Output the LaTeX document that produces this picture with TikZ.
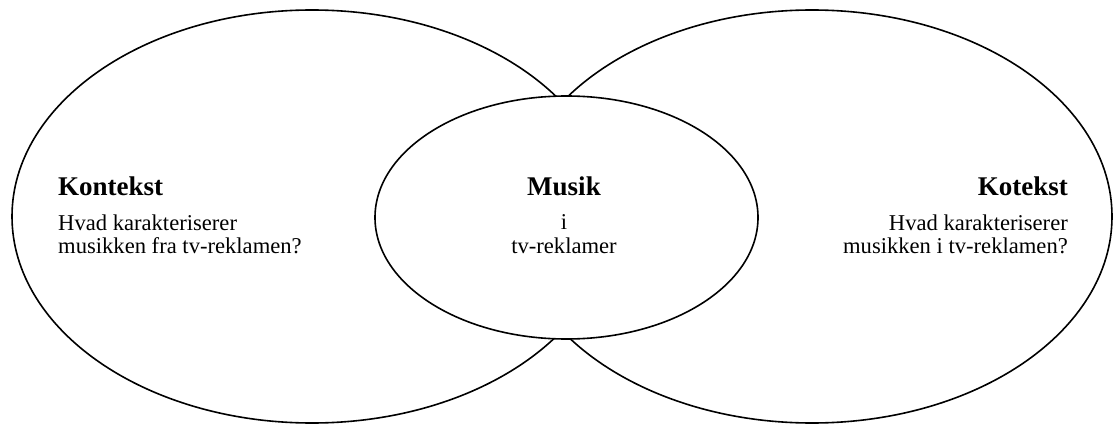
\documentclass[tikz,border=0pt]{standalone}
\usepackage{fontspec}
\setmainfont{Liberation Serif}
\usetikzlibrary{shapes.geometric}
\begin{document}
\begin{tikzpicture}[x=1pt,y=-1pt,
  oval/.style={draw=black, ellipse, line width=1.6pt, inner sep=0pt},
  head/.style={inner sep=0pt, font=\fontsize{27}{30}\selectfont\bfseries},
  body/.style={inner sep=0pt, font=\fontsize{22.6}{24}\selectfont}]
\useasboundingbox (0,0) rectangle (1114,425);
\node[oval, minimum width=600pt, minimum height=413pt] (L) at (312,216.5) {};
\node[oval, minimum width=600pt, minimum height=413pt] (R) at (812,216.5) {};
\node[oval, fill=white, minimum width=383pt, minimum height=243pt] (C) at (566.5,217.5) {};
% left text
\node[head, anchor=base west] (kt) at (58,195) {Kontekst};
\node[body, anchor=base west] (k1) at (58,230) {Hvad karakteriserer};
\node[body, anchor=base west] (k2) at (58,253) {musikken fra tv-reklamen?};
% center text
\node[head, anchor=base] (mt) at (564,195) {Musik};
\node[body, anchor=base] (m1) at (564,229) {i};
\node[body, anchor=base] (m2) at (564,253) {tv-reklamer};
% right text
\node[head, anchor=base east] (ct) at (1068,195) {Kotekst};
\node[body, anchor=base east] (c1) at (1068,230) {Hvad karakteriserer};
\node[body, anchor=base east] (c2) at (1068,253) {musikken i tv-reklamen?};
\end{tikzpicture}
\end{document}
